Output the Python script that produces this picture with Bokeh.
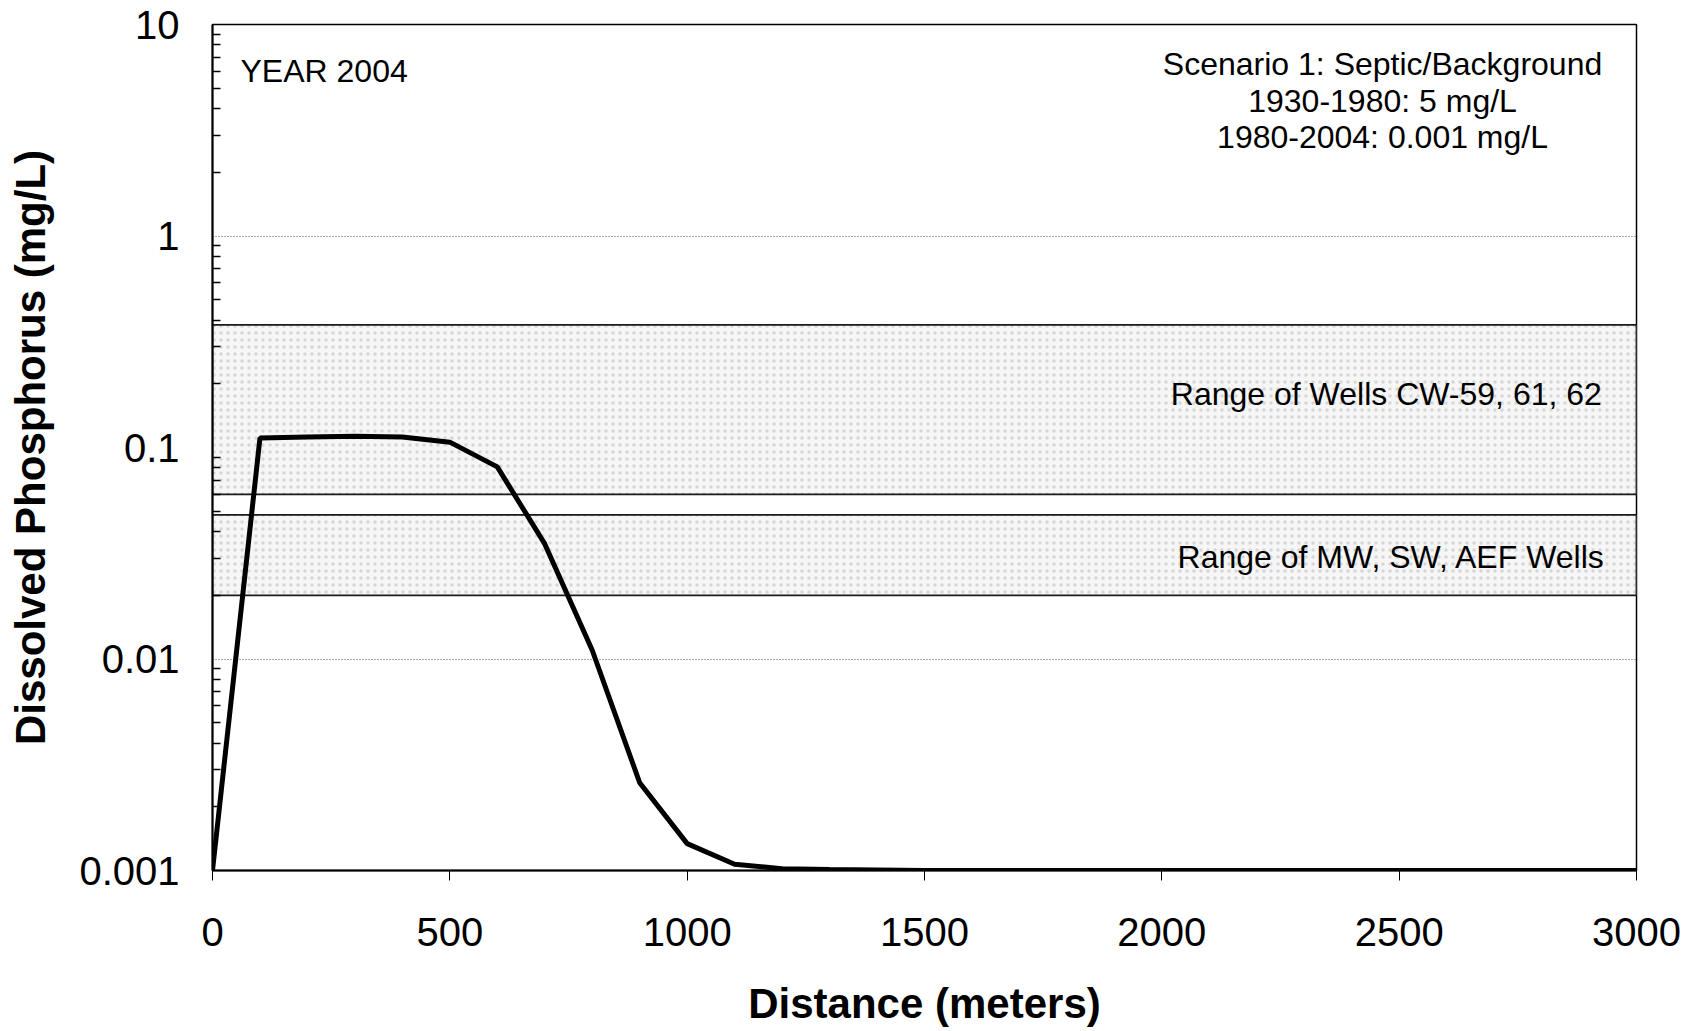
from bokeh.plotting import figure
from bokeh.models import FixedTicker, Label, CustomJSTickFormatter
from bokeh.embed import file_html
from bokeh.resources import INLINE

# ---- data ----
distance = [0, 100, 200, 300, 400, 500, 600, 700, 800, 900, 1000, 1100, 1200, 1300,
            1500, 2000, 2500, 3000]
phosphorus = [0.001, 0.111, 0.112, 0.113, 0.112, 0.106, 0.081, 0.035, 0.011, 0.0026,
              0.00134, 0.00107, 0.00102, 0.00101, 0.001, 0.001, 0.001, 0.001]

band_names = ["Range of Wells CW-59, 61, 62", "Range of MW, SW, AEF Wells"]
band_low = [0.060, 0.020]
band_high = [0.38, 0.048]

y_ticks = [0.001, 0.01, 0.1, 1, 10]
y_tick_labels = ["0.001", "0.01", "0.1", "1", "10"]
x_ticks = [0, 500, 1000, 1500, 2000, 2500, 3000]

FONT = "Liberation Sans"

p = figure(width=1698, height=1031, y_axis_type="log",
           x_range=(0, 3000), y_range=(0.001, 10),
           output_backend="svg", toolbar_location=None,
           min_border_left=212, min_border_right=62,
           min_border_top=24, min_border_bottom=161)
p.background_fill_color = "white"
p.border_fill_color = "white"
p.outline_line_color = "black"
p.outline_line_width = 1.5

# bands
p.quad(left=[0, 0], right=[3000, 3000], bottom=band_low, top=band_high,
       fill_color="#f6f6f6", line_color="#1a1a1a", line_width=1.8,
       hatch_pattern="dot", hatch_color="#9a9a9a", hatch_scale=7, hatch_alpha=0.35)

# curve
p.line(distance, phosphorus, line_color="black", line_width=5)

# axes
p.xaxis.ticker = FixedTicker(ticks=x_ticks)
p.xaxis.axis_label = "Distance (meters)"
p.yaxis.axis_label = "Dissolved Phosphorus (mg/L)"
for ax in [p.xaxis[0], p.yaxis[0]]:
    ax.axis_label_text_font = FONT
    ax.axis_label_text_font_style = "bold"
    ax.axis_label_text_font_size = "42px"
    ax.axis_label_text_color = "black"
    ax.major_label_text_font = FONT
    ax.major_label_text_font_size = "40px"
    ax.major_label_text_color = "black"
    ax.axis_line_color = "black"
    ax.axis_line_width = 2
    ax.major_tick_line_color = "black"
    ax.minor_tick_line_color = "black"

p.xaxis.major_tick_in = 0
p.xaxis.major_tick_out = 10
p.xaxis.minor_tick_in = 0
p.xaxis.minor_tick_out = 0
p.xaxis.major_label_standoff = 37
p.xaxis.axis_label_standoff = 31

p.yaxis.ticker = FixedTicker(ticks=y_ticks, minor_ticks=[
    m * 10.0 ** e for e in range(-3, 1) for m in range(2, 10)])
p.yaxis.formatter = CustomJSTickFormatter(args=dict(t=y_ticks, l=y_tick_labels), code="""
    for (let i = 0; i < t.length; i++) { if (Math.abs(Math.log10(tick) - Math.log10(t[i])) < 1e-6) return l[i]; }
    return '';
""")
p.yaxis.major_tick_in = 0
p.yaxis.major_tick_out = 0
p.yaxis.minor_tick_in = 8
p.yaxis.minor_tick_out = 0
p.yaxis.minor_tick_line_width = 1.5
p.yaxis.major_label_standoff = 33
p.yaxis.axis_label_standoff = 22

p.xgrid.visible = False
p.ygrid.ticker = FixedTicker(ticks=[0.01, 0.1, 1])
p.ygrid.grid_line_color = "#555555"
p.ygrid.grid_line_dash = "1 2"
p.ygrid.grid_line_width = 1.2

# annotations
def lab(x, y, text, align="center", size="32px"):
    p.add_layout(Label(x=x, y=y, text=text, text_align=align, text_baseline="middle",
                       text_font=FONT, text_font_size=size, text_color="black"))

lab(59, 6.0, "YEAR 2004", align="left")
lab(2465, 6.54, "Scenario 1: Septic/Background")
lab(2465, 4.37, "1930-1980: 5 mg/L")
lab(2465, 2.95, "1980-2004: 0.001 mg/L")
lab(2473, 0.18, band_names[0])
lab(2484, 0.0302, band_names[1])

open("out.html", "w").write(file_html(p, INLINE))
